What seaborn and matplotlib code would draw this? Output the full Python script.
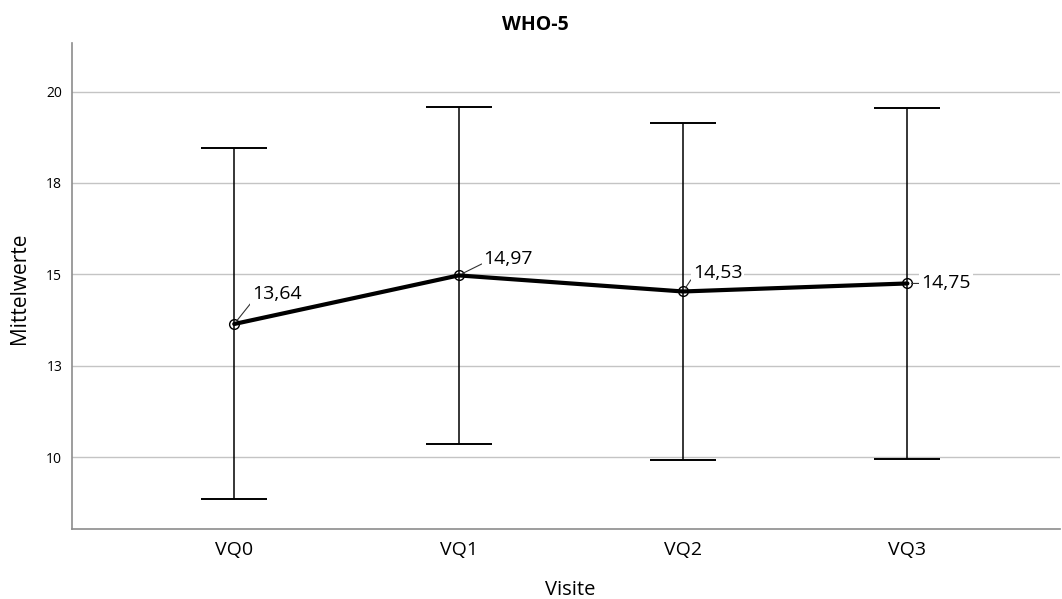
import numpy as np
import pandas as pd
import matplotlib
matplotlib.use("Agg")
import matplotlib.pyplot as plt
import seaborn as sns

# Visit categories and WHO-5 means with error-bar bounds
visits = ["VQ0", "VQ1", "VQ2", "VQ3"]
means = [13.64, 14.97, 14.53, 14.75]
upper = [18.45, 19.59, 19.14, 19.55]
lower = [8.84, 10.36, 9.92, 9.95]

y_ticks = [10, 12.5, 15, 17.5, 20]
y_tick_labels = ["10", "13", "15", "18", "20"]

df = pd.DataFrame({"Visite": visits, "Mittelwerte": means})

sns.set_theme(style="white")
plt.rcParams["font.family"] = ["Open Sans", "DejaVu Sans"]

fig = plt.figure(figsize=(10.62, 5.99), dpi=100)
ax = fig.add_axes([72 / 1062, 1 - 529 / 599, (1060 - 72) / 1062, (529 - 43) / 599])

# whiskers with caps
x_pos = np.arange(len(visits))
ax.errorbar(x_pos, means,
            yerr=[np.array(means) - np.array(lower), np.array(upper) - np.array(means)],
            fmt="none", ecolor="black", elinewidth=1.1, capsize=24, capthick=1.4, zorder=3)

# mean line
sns.lineplot(data=df, x="Visite", y="Mittelwerte", ax=ax, color="black", linewidth=3,
             marker="o", markersize=7, markerfacecolor="none", markeredgecolor="black",
             markeredgewidth=1.0, sort=False, zorder=4)

# value annotations with leader lines (offsets in points)
offsets = [(13, 21.5), (18, 11.5), (7, 13), (10, 0)]
anchors = [(0, 0.1), (0, 0.3), (0, 0.3), (0, 0.5)]
for i, (m, (dx, dy), rp) in enumerate(zip(means, offsets, anchors)):
    label = f"{m:.2f}".replace(".", ",")
    ax.annotate(label, xy=(i, m), xytext=(dx, dy), textcoords="offset points",
                ha="left", va="center", fontsize=14, color="black",
                bbox=dict(boxstyle="square,pad=0.1", fc="white", ec="none"),
                arrowprops=dict(arrowstyle="-", color="#333333", lw=0.8,
                                shrinkA=0, shrinkB=3, relpos=rp),
                zorder=5)

ax.set_xlim(-0.723, 3.68)
ax.set_ylim(8.03, 21.33)
ax.set_yticks(y_ticks)
ax.set_yticklabels(y_tick_labels, fontsize=10, color="black")
ax.tick_params(axis="x", labelsize=14, pad=9, length=0, labelcolor="black")
ax.tick_params(axis="y", length=0, pad=7)
ax.yaxis.grid(True, color="#c4c4c4", linewidth=1.0)
ax.xaxis.grid(False)
ax.set_axisbelow(True)

for side in ["top", "right"]:
    ax.spines[side].set_visible(False)
for side in ["left", "bottom"]:
    ax.spines[side].set_color("#8c8c8c")
    ax.spines[side].set_linewidth(1.2)

ax.set_xlabel("Visite", fontsize=14.5, color="black")
ax.xaxis.set_label_coords((570 - 72) / 988, (529 - 590) / 486)
ax.xaxis.label.set_va("center")
ax.set_ylabel("Mittelwerte", fontsize=15, color="black")
ax.yaxis.set_label_coords((20 - 72) / 988, (529 - 288) / 486)
ax.yaxis.label.set_va("center")
ax.set_title("WHO-5", fontsize=14, fontweight="bold", color="black",
             x=(535 - 72) / 988, y=(529 - 25) / 486, va="center", pad=0)

fig.savefig("out.png", dpi=100, facecolor="white")
